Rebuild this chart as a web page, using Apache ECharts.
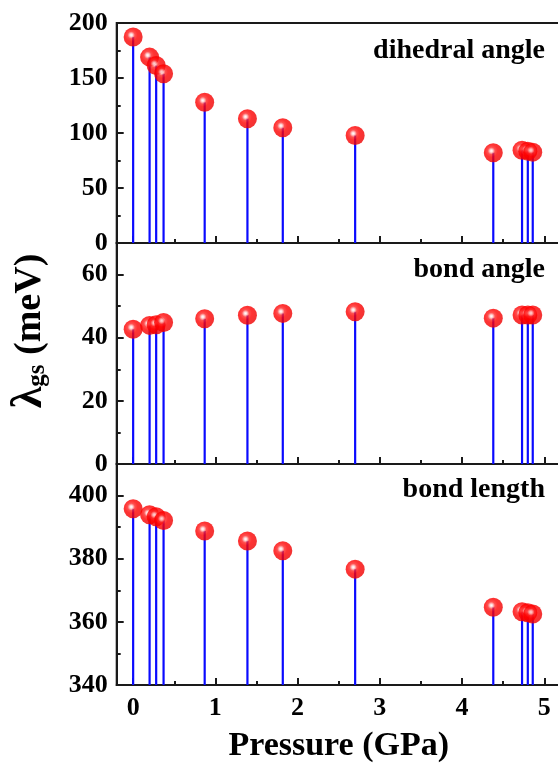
<!DOCTYPE html>
<html><head><meta charset="utf-8">
<script src="https://cdn.jsdelivr.net/npm/echarts@6/dist/echarts.min.js"></script>
<style>html,body{margin:0;padding:0;background:#fff}#c{width:558px;height:766px}</style>
</head><body><div id="c"></div>
<script>
const pressure = [0, 0.2, 0.28, 0.37, 0.87, 1.39, 1.82, 2.7, 4.38, 4.73, 4.8, 4.86];
const dihedralAngle = [187.3, 169.0, 161.3, 153.8, 127.9, 113.0, 104.8, 97.8, 82.0, 84.3, 83.5, 82.6];
const bondAngle = [42.7, 43.9, 44.1, 44.8, 46.0, 47.1, 47.7, 48.2, 46.2, 47.2, 47.2, 47.2];
const bondLength = [395.8, 393.9, 393.3, 392.1, 388.8, 385.6, 382.5, 376.7, 364.6, 363.2, 362.9, 362.5];
const xTicks = [0, 1, 2, 3, 4, 5];
const xMinorTicks = [0.5, 1.5, 2.5, 3.5, 4.5];
const panelNames = ['dihedral angle', 'bond angle', 'bond length'];
const yRanges = [[0, 200], [0, 70], [340, 410]];
const yTicks = [[0, 50, 100, 150, 200], [0, 20, 40, 60], [340, 360, 380, 400]];
const yMinorTicks = [[25, 75, 125, 175], [10, 30, 50], [350, 370, 390]];
const panelValues = [dihedralAngle, bondAngle, bondLength];

const FONT = "'Liberation Serif', 'Times New Roman', serif";
const AX = '#1a1a1a';
const gridTops = [23, 243, 464];
const gridHeights = [220, 221, 221];
const labelY = [51, 270, 490];

const chart = echarts.init(document.getElementById('c'), null, {renderer: 'canvas'});
const grid = [], xAxis = [], yAxis = [], series = [], graphic = [];

for (let p = 0; p < 3; p++) {
  grid.push({left: 116.7, top: gridTops[p], width: 444, height: gridHeights[p],
    outerBoundsMode: 'none', containLabel: false,
    show: true, borderColor: AX, borderWidth: 2, backgroundColor: 'transparent'});
  const last = p === 2;
  xAxis.push({type: 'value', gridIndex: p, min: -0.2, max: 5.2, position: 'bottom',
    axisLine: {show: true, onZero: false, lineStyle: {color: AX, width: 2}},
    axisTick: {show: true, inside: true, length: 7, customValues: xTicks, lineStyle: {color: AX, width: 2}},
    axisLabel: {show: last, customValues: xTicks, margin: 10, color: '#000', fontFamily: FONT, fontWeight: 'bold', fontSize: 26},
    splitLine: {show: false},
    name: last ? 'Pressure (GPa)' : '', nameLocation: 'middle', nameGap: 44,
    nameTextStyle: {color: '#000', fontFamily: FONT, fontWeight: 'bold', fontSize: 34}
  });
  xAxis.push({type: 'value', gridIndex: p, min: -0.2, max: 5.2, position: 'bottom',
    axisLine: {show: false, onZero: false},
    axisTick: {show: true, inside: true, length: 4, customValues: xMinorTicks, lineStyle: {color: AX, width: 2}},
    axisLabel: {show: false}, splitLine: {show: false}
  });
  yAxis.push({type: 'value', gridIndex: p, min: yRanges[p][0], max: yRanges[p][1], position: 'left',
    axisLine: {show: true, onZero: false, lineStyle: {color: AX, width: 2}},
    axisTick: {show: true, inside: true, length: 7, customValues: yTicks[p], lineStyle: {color: AX, width: 2}},
    axisLabel: {show: true, customValues: yTicks[p], margin: 9, color: '#000', fontFamily: FONT, fontWeight: 'bold', fontSize: 26},
    splitLine: {show: false}
  });
  yAxis.push({type: 'value', gridIndex: p, min: yRanges[p][0], max: yRanges[p][1], position: 'left',
    axisLine: {show: false, onZero: false},
    axisTick: {show: true, inside: true, length: 4, customValues: yMinorTicks[p], lineStyle: {color: AX, width: 2}},
    axisLabel: {show: false}, splitLine: {show: false}
  });

  const data = pressure.map((x, i) => [x, panelValues[p][i]]);
  const base = yRanges[p][0];
  series.push({
    type: 'custom', xAxisIndex: 2 * p, yAxisIndex: 2 * p, data: data, z: 2,
    clip: true,
    renderItem: function (params, api) {
      const top = api.coord([api.value(0), api.value(1)]);
      const bot = api.coord([api.value(0), base]);
      return {type: 'line', shape: {x1: top[0], y1: top[1], x2: bot[0], y2: bot[1]},
        style: {stroke: '#0a0aff', lineWidth: 2.2}};
    }
  });
  series.push({
    type: 'scatter', xAxisIndex: 2 * p, yAxisIndex: 2 * p, data: data, z: 3,
    symbol: 'circle', symbolSize: 19,
    itemStyle: {
      color: {type: 'radial', x: 0.4, y: 0.4, r: 0.6, colorStops: [
        {offset: 0, color: '#ffffff'},
        {offset: 0.12, color: '#ffd0d0'},
        {offset: 0.32, color: '#ff2424'},
        {offset: 0.55, color: '#ff0000'},
        {offset: 1, color: '#ee0000'}
      ]}
    },
    emphasis: {disabled: true}
  });

  graphic.push({type: 'text', x: 545, y: labelY[p], z: 10,
    style: {text: panelNames[p], fill: '#000', font: "bold 28px " + FONT, textAlign: 'right', textVerticalAlign: 'middle'}});
}

graphic.push({type: 'text', x: 30, y: 331, rotation: Math.PI / 2, z: 10,
  style: {
    text: '{l|λ}{b|gs}{a| (meV)}', textAlign: 'center', textVerticalAlign: 'middle',
    rich: {
      l: {fontFamily: FONT, fontWeight: 'bold', fontSize: 44, fill: '#000', lineHeight: 42},
      a: {fontFamily: FONT, fontWeight: 'bold', fontSize: 38, fill: '#000', lineHeight: 42},
      b: {fontFamily: FONT, fontWeight: 'bold', fontSize: 25, fill: '#000', lineHeight: 26, padding: [16, 0, 0, 0]}
    }
  }});

chart.setOption({
  animation: false,
  backgroundColor: '#fff',
  grid: grid, xAxis: xAxis, yAxis: yAxis, series: series, graphic: graphic
});
</script></body></html>
